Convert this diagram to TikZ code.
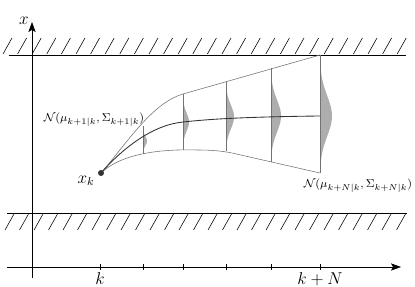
\documentclass[tikz,border=0pt]{standalone}
\usepackage{amsmath}
\usepackage{tikz}
\usetikzlibrary{arrows.meta}

\begin{document}
\begin{tikzpicture}[x=0.7pt,y=0.7pt,
    wall/.style={black,semithick},
    hatch/.style={black,thin},
    axis/.style={-{Stealth[length=7pt,width=5pt,inset=1.5pt]}},
    bound/.style={black!55,thin},
    mean/.style={black!80,semithick},
    bell/.style={black!32},
    every node/.style={inner sep=1.5pt}]
    \useasboundingbox (-32,-19) rectangle (383,267);

    % walls
    \draw[wall] (-23,212) -- (374,212);
    \foreach \i in {0,...,27}
        \draw[hatch] ({-29+14.6*\i},213) -- ++(9,16);
    \draw[wall] (-25,54) -- (375,54);
    \foreach \i in {0,...,27}
        \draw[hatch] ({-27+14.5*\i},37) -- ++(9,16);

    % axes
    \coordinate (o) at (0,0);
    \coordinate (tend) at (369,0);
    \coordinate (xend) at (0,245);
    \draw[axis] (-25,0) -- (tend);
    \draw[axis] (0,-11) -- (xend);
    \node[anchor=east,font=\large] (xlab) at (-1,246) {$x$};
    \foreach \t in {68,111,151,194,239,288}
        \draw (\t,-3) -- (\t,3);
    \node[anchor=north,font=\large] (klab) at (68,-3) {$k$};
    \node[anchor=north,font=\large] (kNlab) at (288,-3) {$k+N$};

    % predicted tube
    \coordinate (xk) at (69,94);
    \foreach \xp/\lo/\up/\m/\w/\s in {111/113/141/126/4/4.5, 151/117/173/145/6/9,
        194/116/185/150/8/12, 239/105/199/151/10/16, 288/94/212/151/12/20} {
        \fill[bell] (\xp,\lo) -- plot[domain=\lo:\up,samples=50]
            ({\xp+\w*exp(-0.5*((\x-\m)/\s)*((\x-\m)/\s))},\x) -- (\xp,\up) -- cycle;
        \draw[bound] (\xp,\lo) -- (\xp,\up);
    }
    \draw[bound] (xk) .. controls (95,124) and (120,164) .. (151,173) -- (288,212);
    \draw[bound] (xk) .. controls (90,114) and (130,118) .. (165,117)
        .. controls (180,117) and (190,116) .. (200,114) -- (288,94);
    \draw[mean] (xk) .. controls (90,118) and (120,142) .. (151,145)
        .. controls (170,147) and (200,150) .. (288,151);
    \fill[black!80] (xk) circle (3);

    \node[font=\large] (xklab) at (54,86) {$x_k$};
    \node (nfirst) at (62,147) {\footnotesize$\mathcal{N}(\mu_{k+1|k},\Sigma_{k+1|k})$};
    \node (nlast) at (326,81) {\footnotesize$\mathcal{N}(\mu_{k+N|k},\Sigma_{k+N|k})$};

\end{tikzpicture}
\end{document}
